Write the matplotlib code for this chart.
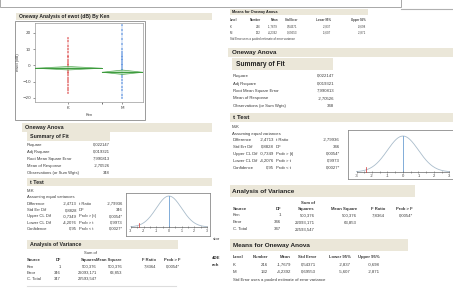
import numpy as np
import matplotlib
matplotlib.use("Agg")
import matplotlib.pyplot as plt
from matplotlib.patches import Rectangle, Polygon

# ---------------- data ----------------
groups = ["K", "M"]
group_n = [216, 132]
group_mean = [-1.7679, -4.2392]
group_lo95 = [-2.837, -5.607]
group_hi95 = [-0.698, -2.871]
k_values = [17, 15, 12, 10, 8, 6, 5, 3, 2, 1, 0, -1, -2, -3, -4,
            -5, -6, -8, -9, -10, -12, -14, -15, -17]
m_values = [25, 22, 19, 16, 13, 10, 8, 7, 6, 5, 4, 3, 2, 1, 0, -1,
            -2, -3, -4, -5, -6, -7, -9, -11, -13, -15, -18, -20]
y_ticks = [-20, -10, 0, 10, 20]
t_ticks = [-3, -2, -1, 0, 1, 2, 3]
t_observed = -2.4

fit_labels = ["Rsquare", "Adj Rsquare", "Root Mean Square Error",
              "Mean of Response", "Observations (or Sum Wgts)"]
fit_values = ["0,022147", "0,019321", "7,990813", "-2,70526", "348"]

tt_labels = ["Difference", "Std Err Dif", "Upper CL Dif", "Lower CL Dif", "Confidence"]
tt_values = ["-2,4713", "0,8828", "-0,7349", "-4,2076", "0,95"]
tt_labels2 = ["t Ratio", "DF", "Prob > |t|", "Prob > t", "Prob < t"]
tt_values2 = ["-2,79936", "346", "0,0054*", "0,9973", "0,0027*"]

anova_cols = ["Source", "DF", "Squares", "Mean Square", "F Ratio", "Prob > F"]
anova_rows = [["Ken", "1", "500,376", "500,376", "7,8364", "0,0054*"],
              ["Error", "346", "22093,171", "63,853", "", ""],
              ["C. Total", "347", "22593,547", "", "", ""]]

means_cols = ["Level", "Number", "Mean", "Std Error", "Lower 95%", "Upper 95%"]
means_rows = [["K", "216", "-1,7679", "0,54371", "-2,837", "-0,698"],
              ["M", "132", "-4,2392", "0,69553", "-5,607", "-2,871"]]

# ---------------- figure ----------------
W, H = 453, 299
fig = plt.figure(figsize=(W / 100, H / 100), dpi=100)
fig.patch.set_facecolor("white")
FONT = "Liberation Sans"
TXT = "#3a3a3a"
BAR = "#ebe7d9"

bg = fig.add_axes([0, 0, 1, 1])
bg.set_xlim(0, W)
bg.set_ylim(H, 0)
bg.axis("off")


def box(x0, y0, x1, y1):
    return [x0 / W, 1 - y1 / H, (x1 - x0) / W, (y1 - y0) / H]


def txt(x, y, s, size=3.0, ha="left", bold=False, color=TXT):
    bg.text(x, y, s, fontsize=size, ha=ha, va="center", family=FONT,
            fontweight="bold" if bold else "normal", color=color)


def bar(x0, y0, x1, y1, title, size=4.0, pad=3):
    bg.add_patch(Rectangle((x0, y0), x1 - x0, y1 - y0, facecolor=BAR,
                           edgecolor="none"))
    txt(x0 + pad, (y0 + y1) / 2, title, size=size, bold=True, color="#222222")


# top window frame fragments
bg.add_patch(Rectangle((0, -2), 401, 9, facecolor="white", edgecolor="#9a9a9a", lw=0.6))
bg.plot([401, 453], [9, 9], color="#b0b0b0", lw=0.8)

# ---------------- left column ----------------
bar(16, 13, 212, 20, "Oneway Analysis of ewot (dB) By Ken", size=3.6)
bg.add_patch(Rectangle((15, 21), 130, 99, facecolor="white", edgecolor="#8a8a8a", lw=0.6))

ax = fig.add_axes(box(35, 23, 143, 102))
ax.set_xlim(-0.61, 1.39)
ax.set_ylim(-22.5, 26)
colors = ["#d83030", "#3a7ad8"]
for i, vals in enumerate([k_values, m_values]):
    ax.plot([i, i], [min(vals), max(vals)], ls="-", lw=0.35, color=colors[i], alpha=0.7)
    ax.plot([i] * len(vals), vals, ls="none", marker="+", ms=1.6, mew=0.35,
            color=colors[i], alpha=0.85)
bounds = [(-0.61, 0.63), (0.63, 1.39)]
for i in range(2):
    xl, xr = bounds[i]
    xc = (xl + xr) / 2
    poly = Polygon([(xl, group_mean[i]), (xc, group_hi95[i]), (xr, group_mean[i]),
                    (xc, group_lo95[i])], closed=True, facecolor="#b5e0b5",
                   edgecolor="#44a044", lw=0.5, alpha=0.85, zorder=3)
    ax.add_patch(poly)
    ax.plot([xl, xr], [group_mean[i]] * 2, color="#3c9a3c", lw=0.7, zorder=4)
ax.set_yticks(y_ticks)
ax.set_xticks([0, 1])
ax.set_xticklabels(groups)
ax.set_xticks([0.63], minor=True)
ax.tick_params(axis="both", labelsize=3, length=1.5, width=0.4, pad=1.5,
               colors="#444444")
ax.tick_params(axis="x", which="minor", length=1.5, width=0.4)
for s in ax.spines.values():
    s.set_color("#9a9a9a")
    s.set_linewidth(0.5)
ax.set_ylabel("ewot (dB)", fontsize=3, family=FONT, labelpad=1.5, color="#444444")
ax.set_xlabel("Ken", fontsize=3, family=FONT, labelpad=2, color="#444444")

bar(22, 123, 212, 132, "Oneway Anova", size=3.9)
bar(27, 132, 110, 141, "Summary of Fit", size=3.8)
for j, (lab, val) in enumerate(zip(fit_labels, fit_values)):
    y = 145 + j * 7
    txt(27, y, lab)
    txt(110, y, val, ha="right")

bar(27, 178, 212, 186, "t Test", size=3.8)
txt(27, 191, "M-K")
txt(27, 197, "Assuming equal variances")
for j in range(5):
    y = 204 + j * 6.2
    txt(27, y, tt_labels[j])
    txt(77, y, tt_values[j], ha="right")
    txt(79, y, tt_labels2[j])
    txt(123, y, tt_values2[j], ha="right")


def tplot(x0, y0, x1, y1, xlim, ylim, fs):
    a = fig.add_axes(box(x0, y0, x1, y1))
    a.set_xlim(*xlim)
    a.set_ylim(*ylim)
    tt = np.linspace(-3, 3, 300)
    a.plot(tt, np.exp(-tt ** 2 / 2) / np.sqrt(2 * np.pi), color="#a9bccb", lw=0.6)
    a.plot([0, 0], [0, 1 / np.sqrt(2 * np.pi)], color="#6c9fd2", lw=0.6)
    a.plot([-3, 3], [0, 0], color="#666666", lw=0.5)
    minor = np.arange(-3, 3.01, 0.5)
    a.plot(minor, np.zeros_like(minor), ls="none", marker="|", ms=2.0, mew=0.4,
           color="#666666")
    a.plot([t_observed, t_observed], [0, 0.05], color="#d03030", lw=0.5)
    span = ylim[1] - ylim[0]
    for t in t_ticks:
        a.text(t, -0.045 * span / 0.55, str(t), fontsize=fs, ha="center",
               va="center", family=FONT, color="#444444")
    a.set_xticks([])
    a.set_yticks([])
    for s in a.spines.values():
        s.set_color("#8a8a8a")
        s.set_linewidth(0.6)
    return a


tplot(126, 193, 210, 236, (-3.39, 3.24), (-0.116, 0.438), 2.6)
txt(213, 239, "stor", size=3.2, color="#333333")

bar(27, 240, 178, 249, "Analysis of Variance", size=3.8)
acol_x = [27, 61, 97, 122, 156, 180]
txt(97, 253, "Sum of", ha="right")
for c, name in enumerate(anova_cols):
    txt(acol_x[c], 260, name, ha="left" if c == 0 else "right", bold=True)
for r, row in enumerate(anova_rows):
    for c, val in enumerate(row):
        txt(acol_x[c], 266.5 + r * 6.2, val, ha="left" if c == 0 else "right")
bg.plot([27, 176], [286, 286], color="#dddddd", lw=0.8)
txt(212, 258, "4DE", size=3.2, bold=True, color="#333333")
txt(212, 265, "ech", size=3.2, bold=True, color="#333333")

# ---------------- right column ----------------
# small means table at top
bar(230, 9, 368, 15, "Means for Oneway Anova", size=2.7, pad=2)
mcol_top = [230, 261, 278, 297, 331, 366]
for c, name in enumerate(means_cols):
    txt(mcol_top[c], 20, name, size=2.1, bold=True, ha="left" if c == 0 else "right")
for r, row in enumerate(means_rows):
    for c, val in enumerate(row):
        txt(mcol_top[c], 27 + r * 6, val, size=2.1, ha="left" if c == 0 else "right")
txt(230, 39, "Std Error uses a pooled estimate of error variance", size=2.1)

bar(228, 48, 453, 57, "Oneway Anova", size=4.5, pad=4)
bar(232, 58, 333, 70, "Summary of Fit", size=4.8, pad=4)
for j, (lab, val) in enumerate(zip(fit_labels, fit_values)):
    y = 76 + j * 7.5
    txt(233, y, lab, size=3.1)
    txt(334, y, val, ha="right", size=3.1)

bar(230, 113, 453, 122, "t Test", size=4.5, pad=3)
txt(232, 127, "M-K", size=3.1)
txt(232, 133.5, "Assuming equal variances", size=3.1)
for j in range(5):
    y = 140 + j * 7
    txt(233, y, tt_labels[j], size=3.1)
    txt(274, y, tt_values[j], ha="right", size=3.1)
    txt(276, y, tt_labels2[j], size=3.1)
    txt(340, y, tt_values2[j], ha="right", size=3.1)

tplot(348, 130, 453, 179, (-3.55, 3.23), (-0.078, 0.466), 3.0)

bar(230, 185, 415, 197, "Analysis of Variance", size=4.6, pad=2)
rcol_x = [233, 281, 315, 357, 385, 413]
txt(315, 203, "Sum of", ha="right", size=3.1, bold=True)
for c, name in enumerate(anova_cols):
    txt(rcol_x[c], 209, name, ha="left" if c == 0 else "right", bold=True, size=3.1)
for r, row in enumerate(anova_rows):
    for c, val in enumerate(row):
        txt(rcol_x[c], 215.5 + r * 6.8, val, ha="left" if c == 0 else "right", size=3.1)

bar(230, 239, 408, 251, "Means for Oneway Anova", size=4.6, pad=3)
mcol_r = [233, 268, 291, 316, 351, 380]
for c, name in enumerate(means_cols):
    txt(mcol_r[c], 257, name, size=3.1, bold=True, ha="left" if c == 0 else "right")
for r, row in enumerate(means_rows):
    for c, val in enumerate(row):
        txt(mcol_r[c], 264.5 + r * 7.5, val, size=3.1, ha="left" if c == 0 else "right")
txt(233, 280, "Std Error uses a pooled estimate of error variance", size=3.1)

fig.savefig("out.png", dpi=100, facecolor="white")
